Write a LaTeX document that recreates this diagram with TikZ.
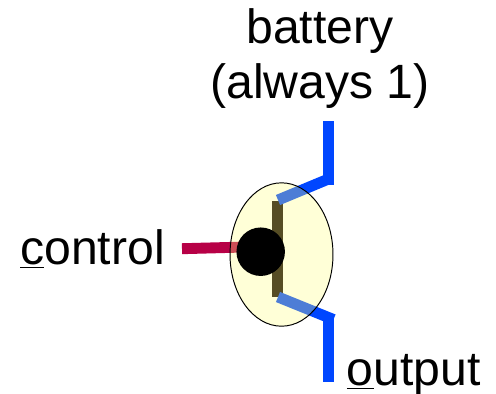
\documentclass[tikz,border=0pt]{standalone}
\usepackage{fontspec}
\setmainfont{Liberation Sans}
\usepackage{xcolor}
\usetikzlibrary{positioning, shapes.geometric}
\definecolor{wireblue}{RGB}{0,70,255}
\definecolor{wirered}{RGB}{183,0,70}
\definecolor{bodyfill}{RGB}{255,255,122}

\begin{document}
\begin{tikzpicture}[
  x=0.02cm, y=-0.02cm,
  wire/.style   = {line width=6.2pt, line cap=butt, line join=miter},
  gatebar/.style = {draw=none, fill=black!95!red, minimum width=6.4pt,
                    minimum height=54.4pt, inner sep=0pt},
  body/.style   = {draw=black, line width=0.55pt, fill=bodyfill, fill opacity=0.3,
                   ellipse, minimum width=58.6pt, minimum height=81.6pt, inner sep=0pt},
  ball/.style   = {circle, fill=black, minimum size=27.6pt, inner sep=0pt},
  label/.style  = {font=\fontsize{27.4}{31.2}\selectfont, inner sep=0pt, align=center}
]
\useasboundingbox (0,0) rectangle (496,393);

% ── Wire end points ──────────────────────────────────────────────────────────
\coordinate (vtop)   at (328.5,121);
\coordinate (vknee)  at (328.5,185);
\coordinate (vslant) at (328.5,179);
\coordinate (vend)   at (278,200);
\coordinate (ostart) at (278,297);
\coordinate (oslant) at (333.5,319.5);
\coordinate (oknee)  at (328.5,316);
\coordinate (obot)   at (328.5,382);
\coordinate (cfree)  at (182,248.7);
\coordinate (cend)   at (245,247);

% ── Gate bar and wires ───────────────────────────────────────────────────────
\node[gatebar] (bar) at (277.7,248.7) {};
\draw[wire, wirered]  (cfree) -- (cend);
\draw[wire, wireblue] (vtop) -- (vknee);
\draw[wire, wireblue] (vslant) -- (vend);
\draw[wire, wireblue] (oknee) -- (obot);
\draw[wire, wireblue] (ostart) -- (oslant);

% ── Body and ball ────────────────────────────────────────────────────────────
\node[body] (shell) at (281.5,254.5) {};
\node[ball] (knob)  at (260.7,251.7) {};

% ── Labels ───────────────────────────────────────────────────────────────────
\node[label, anchor=base] (battery) at (320,98) {battery\\(always 1)};
\node[label, anchor=base west] (control) at (20,264) {\underline{c}ontrol};
\node[label, anchor=base west] (output)  at (346.5,385) {\underline{o}utput};

\end{tikzpicture}
\end{document}
